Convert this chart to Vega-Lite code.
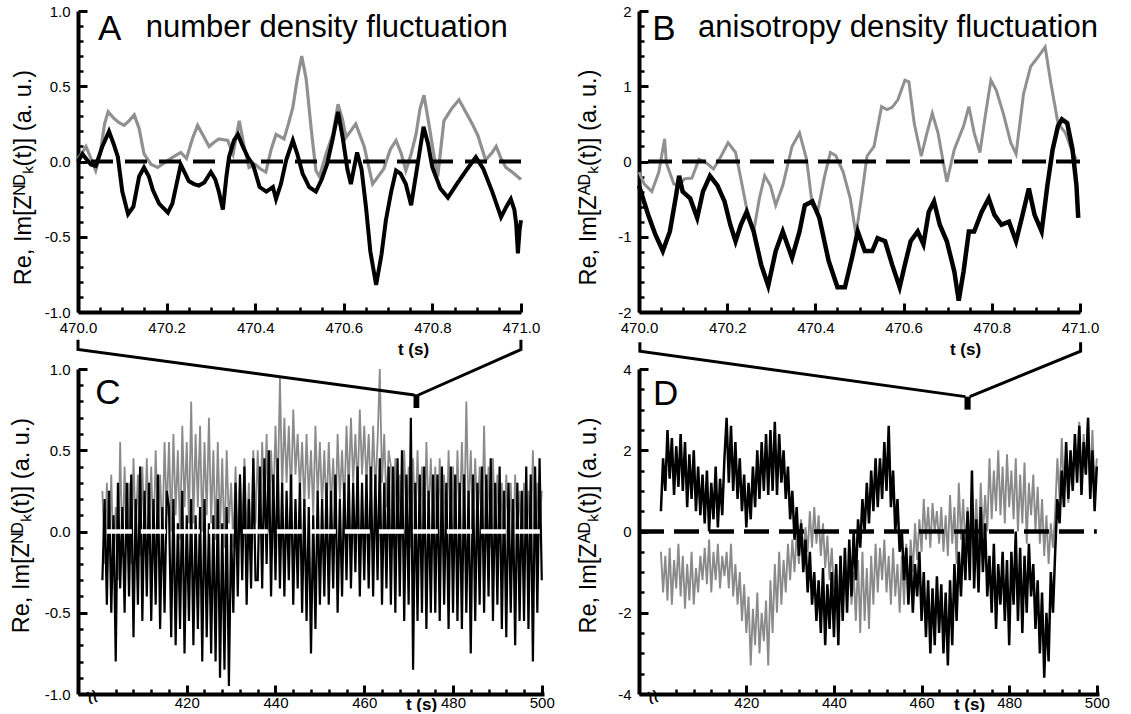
{
  "$schema": "https://vega.github.io/schema/vega-lite/v6.json",
  "background": "white",
  "padding": {"left": 9, "top": 4, "right": 0, "bottom": 0},
  "autosize": {"type": "pad"},
  "config": {
    "view": {"stroke": null},
    "font": "Liberation Sans",
    "axis": {
      "domainColor": "black", "domainWidth": 4, "tickColor": "black", "tickWidth": 3, "tickSize": -9, "zindex": 1,
      "labelColor": "black", "labelFont": "Liberation Sans", "labelFontSize": 15,
      "titleFont": "Liberation Sans", "titleColor": "black", "titleFontWeight": "normal",
      "grid": false, "labelOverlap": false, "labelFlush": false, "labelBound": false
    }
  },
  "datasets": {
    "aRe": [{"t":470.0,"v":0.02},{"t":470.01,"v":0.06},{"t":470.018,"v":0.10},{"t":470.028,"v":0.03},{"t":470.04,"v":-0.06},{"t":470.05,"v":0.05},{"t":470.06,"v":0.25},{"t":470.068,"v":0.33},{"t":470.08,"v":0.29},{"t":470.092,"v":0.26},{"t":470.104,"v":0.24},{"t":470.115,"v":0.27},{"t":470.127,"v":0.31},{"t":470.138,"v":0.22},{"t":470.149,"v":0.05},{"t":470.165,"v":-0.02},{"t":470.18,"v":-0.04},{"t":470.199,"v":0.0},{"t":470.215,"v":0.03},{"t":470.232,"v":0.06},{"t":470.245,"v":0.02},{"t":470.258,"v":0.15},{"t":470.27,"v":0.24},{"t":470.285,"v":0.16},{"t":470.296,"v":0.10},{"t":470.308,"v":0.13},{"t":470.318,"v":0.15},{"t":470.338,"v":0.14},{"t":470.35,"v":0.05},{"t":470.364,"v":0.27},{"t":470.375,"v":0.10},{"t":470.386,"v":-0.04},{"t":470.4,"v":-0.02},{"t":470.412,"v":-0.05},{"t":470.424,"v":-0.07},{"t":470.436,"v":0.08},{"t":470.447,"v":0.18},{"t":470.465,"v":0.15},{"t":470.475,"v":0.25},{"t":470.485,"v":0.36},{"t":470.495,"v":0.55},{"t":470.505,"v":0.70},{"t":470.515,"v":0.55},{"t":470.527,"v":0.20},{"t":470.537,"v":-0.06},{"t":470.545,"v":-0.10},{"t":470.56,"v":0.05},{"t":470.575,"v":0.18},{"t":470.587,"v":0.38},{"t":470.597,"v":0.28},{"t":470.605,"v":0.16},{"t":470.615,"v":0.20},{"t":470.627,"v":0.25},{"t":470.646,"v":0.10},{"t":470.665,"v":-0.15},{"t":470.69,"v":-0.05},{"t":470.705,"v":0.08},{"t":470.718,"v":0.14},{"t":470.73,"v":0.05},{"t":470.74,"v":-0.06},{"t":470.752,"v":0.05},{"t":470.763,"v":0.18},{"t":470.772,"v":0.35},{"t":470.781,"v":0.44},{"t":470.792,"v":0.25},{"t":470.803,"v":0.05},{"t":470.812,"v":-0.10},{"t":470.826,"v":0.27},{"t":470.843,"v":0.35},{"t":470.86,"v":0.41},{"t":470.875,"v":0.33},{"t":470.89,"v":0.25},{"t":470.903,"v":0.17},{"t":470.92,"v":0.01},{"t":470.935,"v":0.06},{"t":470.944,"v":0.10},{"t":470.955,"v":0.02},{"t":470.966,"v":-0.04},{"t":470.98,"v":-0.07},{"t":471.0,"v":-0.12}],
    "aIm": [{"t":470.0,"v":0.0},{"t":470.01,"v":0.05},{"t":470.018,"v":0.02},{"t":470.029,"v":-0.02},{"t":470.04,"v":-0.03},{"t":470.055,"v":0.10},{"t":470.07,"v":0.20},{"t":470.08,"v":0.12},{"t":470.09,"v":0.03},{"t":470.1,"v":-0.20},{"t":470.113,"v":-0.35},{"t":470.125,"v":-0.30},{"t":470.138,"v":-0.10},{"t":470.149,"v":-0.04},{"t":470.16,"v":-0.10},{"t":470.169,"v":-0.19},{"t":470.183,"v":-0.28},{"t":470.203,"v":-0.34},{"t":470.213,"v":-0.28},{"t":470.221,"v":-0.17},{"t":470.232,"v":-0.02},{"t":470.242,"v":-0.08},{"t":470.25,"v":-0.13},{"t":470.262,"v":-0.15},{"t":470.273,"v":-0.16},{"t":470.285,"v":-0.14},{"t":470.3,"v":-0.07},{"t":470.31,"v":-0.12},{"t":470.318,"v":-0.20},{"t":470.327,"v":-0.32},{"t":470.335,"v":-0.10},{"t":470.341,"v":0.03},{"t":470.352,"v":0.14},{"t":470.361,"v":0.18},{"t":470.372,"v":0.10},{"t":470.385,"v":0.02},{"t":470.395,"v":-0.02},{"t":470.41,"v":-0.17},{"t":470.425,"v":-0.20},{"t":470.44,"v":-0.17},{"t":470.447,"v":-0.25},{"t":470.458,"v":-0.15},{"t":470.47,"v":0.01},{"t":470.485,"v":0.14},{"t":470.495,"v":0.05},{"t":470.507,"v":-0.08},{"t":470.522,"v":-0.17},{"t":470.537,"v":-0.20},{"t":470.55,"v":-0.12},{"t":470.562,"v":-0.02},{"t":470.575,"v":0.15},{"t":470.587,"v":0.33},{"t":470.598,"v":0.15},{"t":470.608,"v":-0.05},{"t":470.616,"v":-0.15},{"t":470.63,"v":0.06},{"t":470.64,"v":-0.05},{"t":470.65,"v":-0.30},{"t":470.66,"v":-0.60},{"t":470.673,"v":-0.82},{"t":470.685,"v":-0.62},{"t":470.695,"v":-0.39},{"t":470.707,"v":-0.20},{"t":470.718,"v":-0.06},{"t":470.728,"v":-0.08},{"t":470.74,"v":-0.15},{"t":470.752,"v":-0.29},{"t":470.765,"v":-0.05},{"t":470.78,"v":0.23},{"t":470.79,"v":0.12},{"t":470.8,"v":-0.04},{"t":470.818,"v":-0.18},{"t":470.835,"v":-0.24},{"t":470.855,"v":-0.15},{"t":470.876,"v":-0.06},{"t":470.898,"v":0.03},{"t":470.915,"v":-0.05},{"t":470.935,"v":-0.20},{"t":470.955,"v":-0.37},{"t":470.967,"v":-0.30},{"t":470.977,"v":-0.25},{"t":470.985,"v":-0.32},{"t":470.989,"v":-0.41},{"t":470.993,"v":-0.61},{"t":470.997,"v":-0.45},{"t":471.0,"v":-0.39}],
    "bRe": [{"t":470.0,"v":-0.14},{"t":470.012,"v":-0.30},{"t":470.029,"v":-0.40},{"t":470.045,"v":-0.14},{"t":470.058,"v":0.30},{"t":470.062,"v":-0.02},{"t":470.079,"v":-0.30},{"t":470.091,"v":-0.32},{"t":470.103,"v":-0.23},{"t":470.12,"v":-0.22},{"t":470.136,"v":0.03},{"t":470.153,"v":-0.02},{"t":470.169,"v":-0.10},{"t":470.186,"v":0.07},{"t":470.202,"v":0.25},{"t":470.219,"v":0.12},{"t":470.231,"v":-0.23},{"t":470.244,"v":-0.62},{"t":470.26,"v":-0.93},{"t":470.273,"v":-0.49},{"t":470.285,"v":-0.19},{"t":470.298,"v":-0.32},{"t":470.31,"v":-0.58},{"t":470.326,"v":-0.32},{"t":470.347,"v":0.20},{"t":470.364,"v":0.38},{"t":470.38,"v":0.03},{"t":470.393,"v":-0.58},{"t":470.405,"v":-0.67},{"t":470.421,"v":-0.19},{"t":470.434,"v":0.12},{"t":470.446,"v":0.08},{"t":470.463,"v":-0.14},{"t":470.479,"v":-0.49},{"t":470.492,"v":-0.97},{"t":470.504,"v":-0.49},{"t":470.517,"v":0.07},{"t":470.533,"v":0.20},{"t":470.55,"v":0.73},{"t":470.562,"v":0.69},{"t":470.574,"v":0.72},{"t":470.587,"v":0.82},{"t":470.603,"v":1.08},{"t":470.612,"v":1.06},{"t":470.624,"v":0.51},{"t":470.64,"v":0.07},{"t":470.653,"v":0.38},{"t":470.665,"v":0.64},{"t":470.678,"v":0.38},{"t":470.698,"v":-0.27},{"t":470.715,"v":0.16},{"t":470.736,"v":0.47},{"t":470.748,"v":0.73},{"t":470.76,"v":0.38},{"t":470.773,"v":0.12},{"t":470.785,"v":0.60},{"t":470.798,"v":1.08},{"t":470.81,"v":0.95},{"t":470.826,"v":0.64},{"t":470.843,"v":0.25},{"t":470.855,"v":0.10},{"t":470.872,"v":0.90},{"t":470.888,"v":1.26},{"t":470.905,"v":1.39},{"t":470.921,"v":1.52},{"t":470.934,"v":1.04},{"t":470.95,"v":0.51},{"t":470.967,"v":0.38},{"t":470.983,"v":0.12},{"t":470.992,"v":0.03}],
    "bIm": [{"t":470.0,"v":-0.32},{"t":470.021,"v":-0.71},{"t":470.037,"v":-0.97},{"t":470.054,"v":-1.19},{"t":470.07,"v":-0.93},{"t":470.083,"v":-0.49},{"t":470.091,"v":-0.19},{"t":470.099,"v":-0.40},{"t":470.116,"v":-0.49},{"t":470.132,"v":-0.75},{"t":470.145,"v":-0.40},{"t":470.161,"v":-0.19},{"t":470.178,"v":-0.32},{"t":470.194,"v":-0.53},{"t":470.207,"v":-0.84},{"t":470.219,"v":-1.06},{"t":470.231,"v":-0.84},{"t":470.244,"v":-0.67},{"t":470.26,"v":-0.93},{"t":470.277,"v":-1.37},{"t":470.293,"v":-1.65},{"t":470.31,"v":-1.19},{"t":470.326,"v":-0.93},{"t":470.347,"v":-1.28},{"t":470.364,"v":-0.93},{"t":470.376,"v":-0.58},{"t":470.393,"v":-0.53},{"t":470.409,"v":-0.75},{"t":470.43,"v":-1.32},{"t":470.45,"v":-1.67},{"t":470.467,"v":-1.67},{"t":470.483,"v":-1.28},{"t":470.496,"v":-0.93},{"t":470.512,"v":-1.19},{"t":470.529,"v":-1.19},{"t":470.541,"v":-1.02},{"t":470.558,"v":-1.06},{"t":470.574,"v":-1.37},{"t":470.591,"v":-1.67},{"t":470.603,"v":-1.37},{"t":470.616,"v":-1.06},{"t":470.632,"v":-0.93},{"t":470.645,"v":-1.10},{"t":470.657,"v":-0.67},{"t":470.669,"v":-0.53},{"t":470.682,"v":-0.84},{"t":470.698,"v":-1.06},{"t":470.715,"v":-1.46},{"t":470.725,"v":-1.85},{"t":470.736,"v":-1.46},{"t":470.748,"v":-0.93},{"t":470.76,"v":-0.93},{"t":470.777,"v":-0.67},{"t":470.793,"v":-0.49},{"t":470.806,"v":-0.71},{"t":470.822,"v":-0.84},{"t":470.839,"v":-0.80},{"t":470.855,"v":-1.06},{"t":470.868,"v":-0.75},{"t":470.884,"v":-0.36},{"t":470.897,"v":-0.71},{"t":470.913,"v":-0.93},{"t":470.926,"v":-0.32},{"t":470.938,"v":0.16},{"t":470.95,"v":0.47},{"t":470.959,"v":0.56},{"t":470.971,"v":0.51},{"t":470.983,"v":0.16},{"t":470.992,"v":-0.32},{"t":470.996,"v":-0.75}],
    "cData": [{"t":401,"g":0.25,"b":-0.3},{"t":401.5,"g":-0.2,"b":0.2},{"t":402,"g":0.3,"b":-0.45},{"t":402.5,"g":-0.1,"b":0.25},{"t":403,"g":0.35,"b":-0.5},{"t":403.5,"g":-0.25,"b":0.1},{"t":404,"g":0.15,"b":-0.8},{"t":404.5,"g":-0.3,"b":0.3},{"t":405,"g":0.55,"b":-0.35},{"t":405.5,"g":-0.15,"b":0.15},
      {"t":406,"g":0.4,"b":-0.5},{"t":406.5,"g":-0.1,"b":0.3},{"t":407,"g":0.3,"b":-0.4},{"t":407.5,"g":-0.2,"b":0.35},{"t":408,"g":0.45,"b":-0.65},{"t":408.5,"g":0,"b":0.2},{"t":409,"g":0.35,"b":-0.45},{"t":409.5,"g":-0.15,"b":0.4},{"t":410,"g":0.4,"b":-0.55},{"t":410.5,"g":-0.05,"b":0.25},
      {"t":411,"g":0.45,"b":-0.4},{"t":411.5,"g":0,"b":0.3},{"t":412,"g":0.4,"b":-0.55},{"t":412.5,"g":-0.1,"b":0.2},{"t":413,"g":0.5,"b":-0.45},{"t":413.5,"g":0.05,"b":0.35},{"t":414,"g":0.35,"b":-0.6},{"t":414.5,"g":-0.05,"b":0.15},{"t":415,"g":0.55,"b":-0.5},{"t":415.5,"g":0.1,"b":0.25},
      {"t":416,"g":0.55,"b":0.15},{"t":416.5,"g":0.0,"b":-0.65},{"t":417,"g":0.6,"b":0.2},{"t":417.5,"g":0.1,"b":-0.7},{"t":418,"g":0.5,"b":0.05},{"t":418.5,"g":-0.05,"b":-0.6},{"t":419,"g":0.65,"b":0.25},{"t":419.5,"g":0.15,"b":-0.75},{"t":420,"g":0.55,"b":0.1},{"t":420.5,"g":0.05,"b":-0.55},
      {"t":421,"g":0.8,"b":0.2},{"t":421.5,"g":0.05,"b":-0.7},{"t":422,"g":0.6,"b":0.1},{"t":422.5,"g":0.15,"b":-0.6},{"t":423,"g":0.65,"b":0.15},{"t":423.5,"g":0.0,"b":-0.8},{"t":424,"g":0.55,"b":0.2},{"t":424.5,"g":0.1,"b":-0.65},{"t":425,"g":0.7,"b":0.05},{"t":425.5,"g":0.05,"b":-0.75},
      {"t":426,"g":0.5,"b":0.1},{"t":426.5,"g":-0.05,"b":-0.8},{"t":427,"g":0.55,"b":0.2},{"t":427.5,"g":0.0,"b":-0.9},{"t":428,"g":0.45,"b":0.05},{"t":428.5,"g":-0.1,"b":-0.85},{"t":429,"g":0.5,"b":0.15},{"t":429.5,"g":0.05,"b":-0.95},{"t":430,"g":0.3,"b":0.0},{"t":430.5,"g":-0.1,"b":-0.5},
      {"t":431,"g":0.4,"b":0.3},{"t":431.5,"g":-0.1,"b":-0.4},{"t":432,"g":0.35,"b":0.35},{"t":432.5,"g":0,"b":-0.3},{"t":433,"g":0.45,"b":0.4},{"t":433.5,"g":-0.05,"b":-0.45},{"t":434,"g":0.3,"b":0.2},{"t":434.5,"g":-0.15,"b":-0.35},{"t":435,"g":0.5,"b":0.45},{"t":435.5,"g":0.05,"b":-0.3},
      {"t":436,"g":0.5,"b":-0.3},{"t":436.5,"g":0.05,"b":0.4},{"t":437,"g":0.55,"b":-0.35},{"t":437.5,"g":0.1,"b":0.45},{"t":438,"g":0.6,"b":-0.2},{"t":438.5,"g":0,"b":0.5},{"t":439,"g":0.5,"b":-0.4},{"t":439.5,"g":0.15,"b":0.35},{"t":440,"g":0.65,"b":-0.3},{"t":440.5,"g":0.2,"b":0.45},
      {"t":441,"g":0.95,"b":-0.35},{"t":441.5,"g":0.25,"b":0.3},{"t":442,"g":0.7,"b":-0.4},{"t":442.5,"g":0.3,"b":0.25},{"t":443,"g":0.65,"b":-0.3},{"t":443.5,"g":0.2,"b":0.35},{"t":444,"g":0.75,"b":-0.45},{"t":444.5,"g":0.35,"b":0.2},{"t":445,"g":0.6,"b":-0.35},{"t":445.5,"g":0.25,"b":0.3},
      {"t":446,"g":0.55,"b":-0.5},{"t":446.5,"g":0.15,"b":0.2},{"t":447,"g":0.6,"b":-0.55},{"t":447.5,"g":0.2,"b":0.15},{"t":448,"g":0.5,"b":-0.75},{"t":448.5,"g":0.1,"b":0.1},{"t":449,"g":0.65,"b":-0.6},{"t":449.5,"g":0.2,"b":0.25},{"t":450,"g":0.55,"b":-0.45},{"t":450.5,"g":0.15,"b":0.2},
      {"t":451,"g":0.5,"b":-0.4},{"t":451.5,"g":0.1,"b":0.3},{"t":452,"g":0.55,"b":-0.45},{"t":452.5,"g":0.15,"b":0.25},{"t":453,"g":0.45,"b":-0.35},{"t":453.5,"g":0.05,"b":0.35},{"t":454,"g":0.6,"b":-0.5},{"t":454.5,"g":0.2,"b":0.2},{"t":455,"g":0.5,"b":-0.4},{"t":455.5,"g":0.15,"b":0.3},
      {"t":456,"g":0.65,"b":-0.3},{"t":456.5,"g":0.25,"b":0.35},{"t":457,"g":0.7,"b":-0.35},{"t":457.5,"g":0.3,"b":0.3},{"t":458,"g":0.6,"b":-0.25},{"t":458.5,"g":0.25,"b":0.4},{"t":459,"g":0.75,"b":-0.4},{"t":459.5,"g":0.35,"b":0.3},{"t":460,"g":0.65,"b":-0.3},{"t":460.5,"g":0.3,"b":0.35},
      {"t":461,"g":0.6,"b":-0.35},{"t":461.5,"g":0.2,"b":0.4},{"t":462,"g":0.65,"b":-0.4},{"t":462.5,"g":0.25,"b":0.35},{"t":463,"g":0.55,"b":-0.3},{"t":463.5,"g":1.0,"b":0.45},{"t":464,"g":0.3,"b":-0.45},{"t":464.5,"g":0.6,"b":0.3},{"t":465,"g":0.15,"b":-0.35},{"t":465.5,"g":0.5,"b":0.4},
      {"t":466,"g":0.4,"b":-0.45},{"t":466.5,"g":-0.1,"b":0.4},{"t":467,"g":0.45,"b":-0.5},{"t":467.5,"g":0,"b":0.45},{"t":468,"g":0.35,"b":-0.4},{"t":468.5,"g":-0.05,"b":0.5},{"t":469,"g":0.5,"b":-0.55},{"t":469.5,"g":0.05,"b":0.35},{"t":470,"g":0.4,"b":-0.45},{"t":470.5,"g":-0.1,"b":0.7},
      {"t":471,"g":0.45,"b":-0.85},{"t":471.5,"g":0,"b":0.3},{"t":472,"g":0.5,"b":-0.55},{"t":472.5,"g":0.05,"b":0.35},{"t":473,"g":0.4,"b":-0.5},{"t":473.5,"g":-0.05,"b":0.4},{"t":474,"g":0.55,"b":-0.6},{"t":474.5,"g":0.1,"b":0.25},{"t":475,"g":0.45,"b":-0.5},{"t":475.5,"g":0,"b":0.35},
      {"t":476,"g":0.4,"b":-0.5},{"t":476.5,"g":-0.1,"b":0.35},{"t":477,"g":0.45,"b":-0.55},{"t":477.5,"g":0,"b":0.4},{"t":478,"g":0.35,"b":-0.45},{"t":478.5,"g":-0.1,"b":0.3},{"t":479,"g":0.5,"b":-0.6},{"t":479.5,"g":0.05,"b":0.4},{"t":480,"g":0.4,"b":-0.5},{"t":480.5,"g":-0.05,"b":0.35},
      {"t":481,"g":0.5,"b":-0.55},{"t":481.5,"g":0.05,"b":0.3},{"t":482,"g":0.55,"b":-0.6},{"t":482.5,"g":0,"b":0.35},{"t":483,"g":0.8,"b":-0.5},{"t":483.5,"g":0.1,"b":0.25},{"t":484,"g":0.5,"b":-0.75},{"t":484.5,"g":0,"b":0.35},{"t":485,"g":0.45,"b":-0.55},{"t":485.5,"g":0.05,"b":0.3},
      {"t":486,"g":0.4,"b":-0.45},{"t":486.5,"g":-0.05,"b":0.4},{"t":487,"g":0.65,"b":-0.5},{"t":487.5,"g":0,"b":0.35},{"t":488,"g":0.4,"b":-0.4},{"t":488.5,"g":-0.1,"b":0.45},{"t":489,"g":0.45,"b":-0.55},{"t":489.5,"g":0,"b":0.3},{"t":490,"g":0.35,"b":-0.45},{"t":490.5,"g":-0.05,"b":0.4},
      {"t":491,"g":0.3,"b":-0.6},{"t":491.5,"g":-0.1,"b":0.25},{"t":492,"g":0.35,"b":-0.65},{"t":492.5,"g":-0.05,"b":0.3},{"t":493,"g":0.3,"b":-0.5},{"t":493.5,"g":-0.15,"b":0.2},{"t":494,"g":0.35,"b":-0.7},{"t":494.5,"g":0,"b":0.3},{"t":495,"g":0.25,"b":-0.55},{"t":495.5,"g":-0.1,"b":0.25},
      {"t":496,"g":0.3,"b":-0.55},{"t":496.5,"g":-0.1,"b":0.4},{"t":497,"g":0.25,"b":-0.6},{"t":497.5,"g":-0.05,"b":0.35},{"t":498,"g":0.5,"b":-0.8},{"t":498.5,"g":-0.1,"b":0.4},{"t":499,"g":0.3,"b":-0.5},{"t":499.5,"g":0,"b":0.45},{"t":500,"g":0.25,"b":-0.3}],
    "dData": [{"t":400.5,"b":0.5,"g":-0.5},{"t":401,"b":1.8,"g":-1.5},{"t":401.5,"b":1.0,"g":-0.6},{"t":402,"b":2.5,"g":-1.7},{"t":402.5,"b":1.3,"g":-0.4},{"t":403,"b":2.3,"g":-1.8},{"t":403.5,"b":0.9,"g":-0.7},{"t":404,"b":2.1,"g":-1.4},{"t":404.5,"b":1.1,"g":-0.3},{"t":405,"b":2.4,"g":-1.6},
      {"t":405.5,"b":1.0,"g":-0.6},{"t":406,"b":2.2,"g":-1.9},{"t":406.5,"b":0.6,"g":-0.8},{"t":407,"b":1.9,"g":-1.7},{"t":407.5,"b":0.8,"g":-0.5},{"t":408,"b":2.0,"g":-1.8},{"t":408.5,"b":0.5,"g":-0.9},{"t":409,"b":1.6,"g":-1.5},{"t":409.5,"b":0.4,"g":-0.6},{"t":410,"b":1.4,"g":-1.2},
      {"t":410.5,"b":0.2,"g":-0.4},{"t":411,"b":1.5,"g":-1.3},{"t":411.5,"b":0.0,"g":-0.2},{"t":412,"b":1.2,"g":-1.5},{"t":412.5,"b":0.3,"g":-0.5},{"t":413,"b":1.6,"g":-1.2},{"t":413.5,"b":0.1,"g":-0.3},{"t":414,"b":1.3,"g":-1.4},{"t":414.5,"b":0.4,"g":-0.6},{"t":415,"b":1.8,"g":-1.1},
      {"t":415.5,"b":2.8,"g":-0.5},{"t":416,"b":1.2,"g":-1.4},{"t":416.5,"b":2.6,"g":-0.3},{"t":417,"b":1.0,"g":-1.6},{"t":417.5,"b":2.2,"g":-0.8},{"t":418,"b":0.8,"g":-1.8},{"t":418.5,"b":1.8,"g":-1.0},{"t":419,"b":0.5,"g":-2.2},{"t":419.5,"b":1.4,"g":-1.3},{"t":420,"b":0.1,"g":-2.5},
      {"t":420.5,"b":1.2,"g":-1.6},{"t":421,"b":0.3,"g":-3.3},{"t":421.5,"b":1.6,"g":-1.9},{"t":422,"b":0.6,"g":-2.8},{"t":422.5,"b":2.0,"g":-1.5},{"t":423,"b":0.8,"g":-3.0},{"t":423.5,"b":2.2,"g":-2.0},{"t":424,"b":1.0,"g":-2.7},{"t":424.5,"b":2.4,"g":-1.7},{"t":425,"b":0.9,"g":-3.3},
      {"t":425.5,"b":2.5,"g":-1.2},{"t":426,"b":1.0,"g":-2.5},{"t":426.5,"b":2.7,"g":-0.8},{"t":427,"b":0.9,"g":-2.0},{"t":427.5,"b":2.4,"g":-0.5},{"t":428,"b":1.2,"g":-1.8},{"t":428.5,"b":2.0,"g":-0.7},{"t":429,"b":0.8,"g":-1.5},{"t":429.5,"b":1.6,"g":-0.3},{"t":430,"b":0.3,"g":-1.2},
      {"t":430.5,"b":1.0,"g":-0.2},{"t":431,"b":-0.2,"g":-1.0},{"t":431.5,"b":0.6,"g":0.0},{"t":432,"b":-0.6,"g":-0.8},{"t":432.5,"b":0.2,"g":0.3},{"t":433,"b":-1.0,"g":-0.6},{"t":433.5,"b":-0.2,"g":0.1},{"t":434,"b":-1.5,"g":-0.5},{"t":434.5,"b":-0.5,"g":0.5},{"t":435,"b":-1.8,"g":-0.4},
      {"t":435.5,"b":-1.0,"g":0.6},{"t":436,"b":-2.2,"g":-0.3},{"t":436.5,"b":-1.2,"g":0.4},{"t":437,"b":-2.5,"g":-0.6},{"t":437.5,"b":-0.9,"g":0.2},{"t":438,"b":-2.8,"g":-0.9},{"t":438.5,"b":-1.3,"g":-0.1},{"t":439,"b":-2.4,"g":-1.2},{"t":439.5,"b":-1.0,"g":-0.4},{"t":440,"b":-2.6,"g":-1.5},
      {"t":440.5,"b":-0.8,"g":-0.8},{"t":441,"b":-2.8,"g":-1.9},{"t":441.5,"b":-0.6,"g":-0.6},{"t":442,"b":-2.2,"g":-2.0},{"t":442.5,"b":-0.4,"g":-0.9},{"t":443,"b":-2.0,"g":-1.7},{"t":443.5,"b":-0.2,"g":-0.5},{"t":444,"b":-1.6,"g":-1.8},{"t":444.5,"b":0.0,"g":-1.0},{"t":445,"b":-1.2,"g":-2.2},
      {"t":445.5,"b":0.3,"g":-0.7},{"t":446,"b":-0.4,"g":-2.5},{"t":446.5,"b":0.8,"g":-0.5},{"t":447,"b":0.0,"g":-2.2},{"t":447.5,"b":1.2,"g":-0.9},{"t":448,"b":0.2,"g":-2.4},{"t":448.5,"b":1.5,"g":-0.6},{"t":449,"b":0.5,"g":-1.8},{"t":449.5,"b":1.8,"g":-0.3},{"t":450,"b":0.6,"g":-1.5},
      {"t":450.5,"b":1.8,"g":-0.4},{"t":451,"b":0.8,"g":-1.2},{"t":451.5,"b":2.2,"g":-0.2},{"t":452,"b":1.0,"g":-1.5},{"t":452.5,"b":2.6,"g":-0.6},{"t":453,"b":0.6,"g":-1.8},{"t":453.5,"b":1.5,"g":-0.4},{"t":454,"b":0.0,"g":-1.6},{"t":454.5,"b":0.8,"g":-0.8},{"t":455,"b":-0.5,"g":-2.0},
      {"t":455.5,"b":0.0,"g":-0.6},{"t":456,"b":-1.2,"g":-1.8},{"t":456.5,"b":-0.4,"g":-0.3},{"t":457,"b":-1.8,"g":-1.5},{"t":457.5,"b":-0.6,"g":-0.2},{"t":458,"b":-2.0,"g":-1.0},{"t":458.5,"b":-0.8,"g":0.2},{"t":459,"b":-1.6,"g":-0.7},{"t":459.5,"b":-0.5,"g":0.3},{"t":460,"b":-2.2,"g":-0.5},
      {"t":460.5,"b":-1.0,"g":0.8},{"t":461,"b":-2.6,"g":-0.2},{"t":461.5,"b":-1.2,"g":0.6},{"t":462,"b":-3.0,"g":-0.4},{"t":462.5,"b":-1.4,"g":0.7},{"t":463,"b":-2.8,"g":0.0},{"t":463.5,"b":-1.1,"g":0.5},{"t":464,"b":-2.5,"g":-0.3},{"t":464.5,"b":-1.3,"g":0.6},{"t":465,"b":-3.0,"g":-0.5},
      {"t":465.5,"b":-1.5,"g":0.4},{"t":466,"b":-3.3,"g":-0.6},{"t":466.5,"b":-1.2,"g":0.9},{"t":467,"b":-2.8,"g":-0.3},{"t":467.5,"b":-0.8,"g":0.6},{"t":468,"b":-2.2,"g":-0.8},{"t":468.5,"b":-0.5,"g":1.2},{"t":469,"b":-1.6,"g":-0.2},{"t":469.5,"b":0.0,"g":0.8},{"t":470,"b":-1.2,"g":-0.4},
      {"t":470.5,"b":0.5,"g":0.6},{"t":471,"b":-1.2,"g":-0.5},{"t":471.5,"b":1.5,"g":1.0},{"t":472,"b":-1.4,"g":-0.2},{"t":472.5,"b":0.3,"g":0.8},{"t":473,"b":-1.5,"g":-0.6},{"t":473.5,"b":0.6,"g":1.2},{"t":474,"b":-1.0,"g":-0.1},{"t":474.5,"b":0.2,"g":0.9},{"t":475,"b":-1.6,"g":0.0},
      {"t":475.5,"b":-0.6,"g":1.8},{"t":476,"b":-2.0,"g":0.3},{"t":476.5,"b":-0.3,"g":1.5},{"t":477,"b":-2.4,"g":0.5},{"t":477.5,"b":-0.8,"g":2.0},{"t":478,"b":-1.8,"g":0.4},{"t":478.5,"b":-0.5,"g":1.6},{"t":479,"b":-2.2,"g":0.2},{"t":479.5,"b":-0.7,"g":1.9},{"t":480,"b":-2.8,"g":0.6},
      {"t":480.5,"b":-0.5,"g":1.5},{"t":481,"b":-1.8,"g":0.3},{"t":481.5,"b":0.0,"g":1.8},{"t":482,"b":-2.2,"g":0.0},{"t":482.5,"b":-0.4,"g":1.4},{"t":483,"b":-2.5,"g":0.2},{"t":483.5,"b":-0.6,"g":1.7},{"t":484,"b":-2.0,"g":-0.3},{"t":484.5,"b":-0.3,"g":1.2},{"t":485,"b":-1.6,"g":0.4},
      {"t":485.5,"b":-0.8,"g":1.4},{"t":486,"b":-2.4,"g":0.0},{"t":486.5,"b":-1.2,"g":1.1},{"t":487,"b":-3.0,"g":-0.3},{"t":487.5,"b":-1.5,"g":0.8},{"t":488,"b":-3.6,"g":-0.6},{"t":488.5,"b":-2.0,"g":0.4},{"t":489,"b":-3.2,"g":-0.8},{"t":489.5,"b":-1.0,"g":0.2},{"t":490,"b":-2.0,"g":-0.4},
      {"t":490.5,"b":-0.5,"g":0.5},{"t":491,"b":0.8,"g":1.8},{"t":491.5,"b":0.2,"g":0.8},{"t":492,"b":1.5,"g":2.3},{"t":492.5,"b":0.6,"g":1.0},{"t":493,"b":2.2,"g":2.0},{"t":493.5,"b":0.8,"g":0.7},{"t":494,"b":2.0,"g":1.9},{"t":494.5,"b":1.0,"g":1.2},{"t":495,"b":2.4,"g":2.2},
      {"t":495.5,"b":1.2,"g":1.5},{"t":496,"b":2.6,"g":2.7},{"t":496.5,"b":0.9,"g":1.2},{"t":497,"b":2.2,"g":2.4},{"t":497.5,"b":1.4,"g":1.6},{"t":498,"b":2.8,"g":2.8},{"t":498.5,"b":0.8,"g":1.3},{"t":499,"b":2.0,"g":2.5},{"t":499.5,"b":0.5,"g":1.0},{"t":500,"b":1.6,"g":1.8}],
    "brC": [{"s":"L","i":0,"t":395.5,"v":1.18},{"s":"L","i":1,"t":395.5,"v":1.12},{"s":"L","i":2,"t":471.3,"v":0.84},{"s":"R","i":0,"t":495.3,"v":1.18},{"s":"R","i":1,"t":495.3,"v":1.12},{"s":"R","i":2,"t":472.2,"v":0.84}],
    "brD": [{"s":"L","i":0,"t":395.7,"v":4.66},{"s":"L","i":1,"t":395.7,"v":4.44},{"s":"L","i":2,"t":470,"v":3.32},{"s":"R","i":0,"t":496.3,"v":4.66},{"s":"R","i":1,"t":496.3,"v":4.44},{"s":"R","i":2,"t":471,"v":3.32}]
  },
  "columns": 2,
  "bounds": "flush",
  "align": "each",
  "spacing": {"row": 57, "column": 95},
  "concat": [
    {
      "width": 443, "height": 301,
      "resolve": {"axis": {"x": "independent", "y": "independent"}},
      "layer": [
        {"data": {"name": "aRe"}, "mark": {"type": "line", "color": "#909090", "strokeWidth": 3.2},
         "encoding": {
           "x": {"field": "t", "type": "quantitative", "scale": {"domain": [470, 471], "nice": false, "zero": false},
                 "axis": {"orient": "bottom", "values": [470,470.2,470.4,470.6,470.8,471], "labelExpr": "format(datum.value,'.1f')", "labelPadding": 17, "tickSize": -9,
                          "title": "t (s)", "titleX": 335, "titleY": 37, "titleBaseline": "middle", "titleFontSize": 17, "titleFontWeight": "bold"}},
           "y": {"field": "v", "type": "quantitative", "scale": {"domain": [-1, 1], "nice": false},
                 "axis": {"orient": "left", "values": [-1,-0.5,0,0.5,1], "labelExpr": "(datum.value<0?'-':'') + format(abs(datum.value),'.1f')", "labelPadding": 17, "tickSize": -9,
                          "title": "Re, Im[Zᴺᴰₖ(t)] (a. u.)", "titleFontSize": 23.5, "titleX": -55, "titleY": 166, "titleBaseline": "middle"}}
         }},
        {"data": {"name": "aIm"}, "mark": {"type": "line", "color": "black", "strokeWidth": 4},
         "encoding": {
           "x": {"field": "t", "type": "quantitative", "axis": {"orient": "bottom", "values": [470.05,470.1,470.15,470.25,470.3,470.35,470.45,470.5,470.55,470.65,470.7,470.75,470.85,470.9,470.95], "labels": false, "domain": false, "tickSize": -5, "tickWidth": 2.5, "title": null}},
           "y": {"field": "v", "type": "quantitative", "axis": {"orient": "left", "values": [-0.9,-0.8,-0.7,-0.6,-0.4,-0.3,-0.2,-0.1,0.1,0.2,0.3,0.4,0.6,0.7,0.8,0.9], "labels": false, "domain": false, "tickSize": -5, "tickWidth": 2.5, "title": null}}}},
        {"data": {"values": [{}]}, "mark": {"type": "rule", "color": "black", "strokeWidth": 4, "strokeDash": [22, 12]},
         "encoding": {"y": {"datum": 0, "axis": null}}},
        {"data": {"values": [{}]}, "mark": {"type": "text", "text": "A", "fontSize": 35, "align": "left", "baseline": "middle", "color": "black"},
         "encoding": {"x": {"datum": 470.045, "axis": null}, "y": {"datum": 0.88, "axis": null}}},
        {"data": {"values": [{}]}, "mark": {"type": "text", "text": "number density fluctuation", "fontSize": 31, "align": "left", "baseline": "middle", "color": "black"},
         "encoding": {"x": {"datum": 470.153, "axis": null}, "y": {"datum": 0.89, "axis": null}}}
      ]
    },
    {
      "width": 441, "height": 301,
      "resolve": {"axis": {"x": "independent", "y": "independent"}},
      "layer": [
        {"data": {"name": "bRe"}, "mark": {"type": "line", "color": "#909090", "strokeWidth": 3},
         "encoding": {
           "x": {"field": "t", "type": "quantitative", "scale": {"domain": [470, 471], "nice": false, "zero": false},
                 "axis": {"orient": "bottom", "values": [470,470.2,470.4,470.6,470.8,471], "labelExpr": "format(datum.value,'.1f')", "labelPadding": 17, "tickSize": -9,
                          "title": "t (s)", "titleX": 326, "titleY": 37, "titleBaseline": "middle", "titleFontSize": 17, "titleFontWeight": "bold"}},
           "y": {"field": "v", "type": "quantitative", "scale": {"domain": [-2, 2], "nice": false},
                 "axis": {"orient": "left", "values": [-2,-1,0,1,2], "labelExpr": "(datum.value<0?'-':'') + format(abs(datum.value),'d')", "labelPadding": 17, "tickSize": -9,
                          "title": "Re, Im[Zᴬᴰₖ(t)] (a. u.)", "titleFontSize": 23.5, "titleX": -51, "titleY": 166, "titleBaseline": "middle"}}
         }},
        {"data": {"name": "bIm"}, "mark": {"type": "line", "color": "black", "strokeWidth": 4.5},
         "encoding": {
           "x": {"field": "t", "type": "quantitative", "axis": {"orient": "bottom", "values": [470.05,470.1,470.15,470.25,470.3,470.35,470.45,470.5,470.55,470.65,470.7,470.75,470.85,470.9,470.95], "labels": false, "domain": false, "tickSize": -5, "tickWidth": 2.5, "title": null}},
           "y": {"field": "v", "type": "quantitative", "axis": {"orient": "left", "values": [-1.8,-1.6,-1.4,-1.2,-0.8,-0.6,-0.4,-0.2,0.2,0.4,0.6,0.8,1.2,1.4,1.6,1.8], "labels": false, "domain": false, "tickSize": -5, "tickWidth": 2.5, "title": null}}}},
        {"data": {"values": [{}]}, "mark": {"type": "rule", "color": "black", "strokeWidth": 4, "strokeDash": [24, 10]},
         "encoding": {"y": {"datum": 0, "axis": null}}},
        {"data": {"values": [{}]}, "mark": {"type": "text", "text": "B", "fontSize": 35, "align": "left", "baseline": "middle", "color": "black"},
         "encoding": {"x": {"datum": 470.03, "axis": null}, "y": {"datum": 1.76, "axis": null}}},
        {"data": {"values": [{}]}, "mark": {"type": "text", "text": "anisotropy density fluctuation", "fontSize": 31, "align": "left", "baseline": "middle", "color": "black"},
         "encoding": {"x": {"datum": 470.134, "axis": null}, "y": {"datum": 1.78, "axis": null}}}
      ]
    },
    {
      "width": 466, "height": 325,
      "resolve": {"axis": {"x": "independent", "y": "independent"}},
      "layer": [
        {"data": {"name": "cData"}, "mark": {"type": "line", "color": "#8a8a8a", "strokeWidth": 1.8},
         "encoding": {
           "x": {"field": "t", "type": "quantitative", "scale": {"domain": [395.5, 500.5], "nice": false, "zero": false},
                 "axis": {"orient": "bottom", "values": [420,440,460,480,500], "labelExpr": "format(datum.value,'d')", "labelPadding": 10, "tickSize": -9,
                          "title": "t (s)", "titleX": 343, "titleY": 10, "titleBaseline": "middle", "titleFontSize": 17, "titleFontWeight": "bold"}},
           "y": {"field": "g", "type": "quantitative", "scale": {"domain": [-1, 1], "nice": false},
                 "axis": {"orient": "left", "values": [-1,-0.5,0,0.5,1], "labelExpr": "(datum.value<0?'-':'') + format(abs(datum.value),'.1f')", "labelPadding": 17, "tickSize": -9,
                          "title": "Re, Im[Zᴺᴰₖ(t)] (a. u.)", "titleFontSize": 23.5, "titleX": -57, "titleY": 156, "titleBaseline": "middle"}}
         }},
        {"data": {"name": "cData"}, "mark": {"type": "line", "color": "black", "strokeWidth": 2.2},
         "encoding": {
           "x": {"field": "t", "type": "quantitative", "axis": {"orient": "bottom", "values": [404,408,412,416,424,428,432,436,444,448,452,456,464,468,472,476,484,488,492,496], "labels": false, "domain": false, "tickSize": -5, "tickWidth": 2.5, "title": null}},
           "y": {"field": "b", "type": "quantitative", "axis": {"orient": "left", "values": [-0.9,-0.8,-0.7,-0.6,-0.4,-0.3,-0.2,-0.1,0.1,0.2,0.3,0.4,0.6,0.7,0.8,0.9], "labels": false, "domain": false, "tickSize": -5, "tickWidth": 2.5, "title": null}}}},
        {"data": {"values": [{}]}, "mark": {"type": "rule", "color": "white", "strokeWidth": 4.5, "strokeDash": [25, 9]},
         "encoding": {"x": {"datum": 402, "axis": null}, "x2": {"datum": 500.4}, "y": {"datum": 0, "axis": null}}},
        {"data": {"name": "brC"}, "mark": {"type": "line", "color": "black", "strokeWidth": 3},
         "encoding": {"x": {"field": "t", "type": "quantitative", "axis": null}, "y": {"field": "v", "type": "quantitative", "axis": null}, "detail": {"field": "s"}, "order": {"field": "i"}}},
        {"data": {"values": [{}]}, "mark": {"type": "rect", "color": "black"},
         "encoding": {"x": {"datum": 471.1, "axis": null}, "x2": {"datum": 472.4}, "y": {"datum": 0.76, "axis": null}, "y2": {"datum": 0.845}}},
        {"data": {"values": [{}]}, "mark": {"type": "text", "text": "C", "fontSize": 35, "align": "left", "baseline": "middle", "color": "black"},
         "encoding": {"x": {"datum": 399.4, "axis": null}, "y": {"datum": 0.85, "axis": null}}},
        {"data": {"values": [{}]}, "mark": {"type": "text", "text": "≈", "fontSize": 26, "angle": 70, "align": "center", "baseline": "middle", "color": "black"},
         "encoding": {"x": {"datum": 398.6, "axis": null}, "y": {"datum": -1.02, "axis": null}}}
      ]
    },
    {
      "width": 460, "height": 325,
      "resolve": {"axis": {"x": "independent", "y": "independent"}},
      "layer": [
        {"data": {"name": "dData"}, "mark": {"type": "line", "color": "#8a8a8a", "strokeWidth": 1.9},
         "encoding": {
           "x": {"field": "t", "type": "quantitative", "scale": {"domain": [395.5, 500.5], "nice": false, "zero": false},
                 "axis": {"orient": "bottom", "values": [420,440,460,480,500], "labelExpr": "format(datum.value,'d')", "labelPadding": 10, "tickSize": -9,
                          "title": "t (s)", "titleX": 330, "titleY": 10, "titleBaseline": "middle", "titleFontSize": 17, "titleFontWeight": "bold"}},
           "y": {"field": "g", "type": "quantitative", "scale": {"domain": [-4, 4], "nice": false},
                 "axis": {"orient": "left", "values": [-4,-2,0,2,4], "labelExpr": "(datum.value<0?'-':'') + format(abs(datum.value),'d')", "labelPadding": 17, "tickSize": -9,
                          "title": "Re, Im[Zᴬᴰₖ(t)] (a. u.)", "titleFontSize": 23.5, "titleX": -51, "titleY": 156, "titleBaseline": "middle"}}
         }},
        {"data": {"name": "dData"}, "mark": {"type": "line", "color": "black", "strokeWidth": 2.5},
         "encoding": {
           "x": {"field": "t", "type": "quantitative", "axis": {"orient": "bottom", "values": [404,408,412,416,424,428,432,436,444,448,452,456,464,468,472,476,484,488,492,496], "labels": false, "domain": false, "tickSize": -5, "tickWidth": 2.5, "title": null}},
           "y": {"field": "b", "type": "quantitative", "axis": {"orient": "left", "values": [-3.5,-3,-2.5,-1.5,-1,-0.5,0.5,1,1.5,2.5,3,3.5], "labels": false, "domain": false, "tickSize": -5, "tickWidth": 2.5, "title": null}}}},
        {"data": {"values": [{}]}, "mark": {"type": "rule", "color": "black", "strokeWidth": 4.5, "strokeDash": [25, 10]},
         "encoding": {"x": {"datum": 395.5, "axis": null}, "x2": {"datum": 500}, "y": {"datum": 0, "axis": null}}},
        {"data": {"name": "brD"}, "mark": {"type": "line", "color": "black", "strokeWidth": 3},
         "encoding": {"x": {"field": "t", "type": "quantitative", "axis": null}, "y": {"field": "v", "type": "quantitative", "axis": null}, "detail": {"field": "s"}, "order": {"field": "i"}}},
        {"data": {"values": [{}]}, "mark": {"type": "rect", "color": "black"},
         "encoding": {"x": {"datum": 469.8, "axis": null}, "x2": {"datum": 471.2}, "y": {"datum": 3.0, "axis": null}, "y2": {"datum": 3.32}}},
        {"data": {"values": [{}]}, "mark": {"type": "text", "text": "D", "fontSize": 35, "align": "left", "baseline": "middle", "color": "black"},
         "encoding": {"x": {"datum": 398.7, "axis": null}, "y": {"datum": 3.39, "axis": null}}},
        {"data": {"values": [{}]}, "mark": {"type": "text", "text": "≈", "fontSize": 26, "angle": 70, "align": "center", "baseline": "middle", "color": "black"},
         "encoding": {"x": {"datum": 398.6, "axis": null}, "y": {"datum": -4.08, "axis": null}}}
      ]
    }
  ]
}
